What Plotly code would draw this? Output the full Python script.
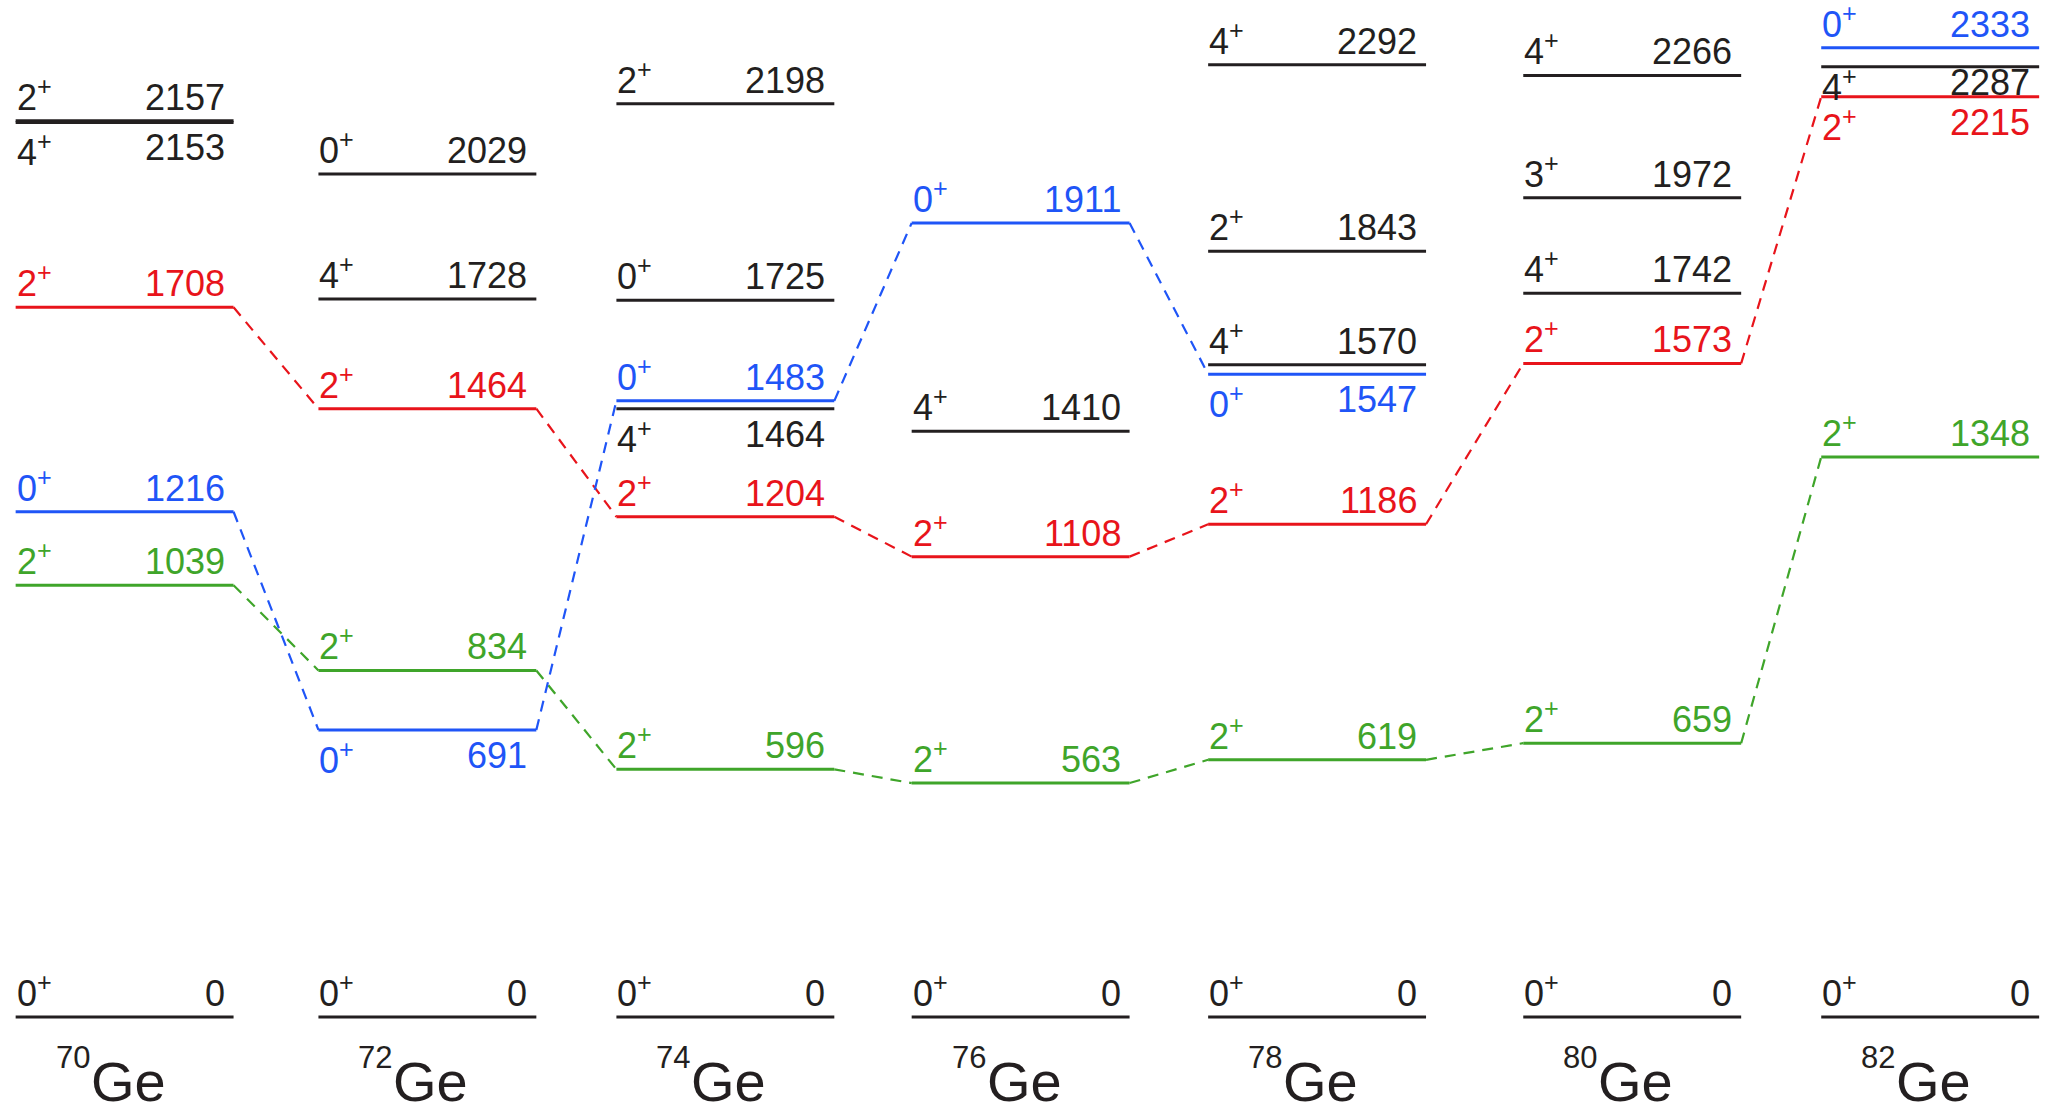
import plotly.graph_objects as go

# ---- level data (keV) -------------------------------------------------------
nuclei = ["70", "72", "74", "76", "78", "80", "82"]
ground_energy = [0, 0, 0, 0, 0, 0, 0]
first_2plus = [1039, 834, 596, 563, 619, 659, 1348]
second_2plus = [1708, 1464, 1204, 1108, 1186, 1573, 2215]
second_0plus = [1216, 691, 1483, 1911, 1547, None, 2333]

other_nucleus = [0, 0, 1, 1, 2, 2, 2, 3, 4, 4, 4, 5, 5, 5, 6]
other_spin = ["2", "4", "0", "4", "2", "0", "4", "4", "4", "2", "4", "4", "3", "4", "4"]
other_energy = [2157, 2153, 2029, 1728, 2198, 1725, 1464, 1410, 2292, 1843, 1570,
                2266, 1972, 1742, 2287]

# ---- styling / layout ---------------------------------------------------------
BLACK = "#231F20"
RED = "#E8141B"
BLUE = "#1F55F7"
GREEN = "#3FA52A"
FONT = "Liberation Sans, Arial, Helvetica, sans-serif"
LABEL_SIZE = 36

COL_POS = [0.0, 1.006, 1.996, 2.977, 3.962, 5.009, 5.999]   # column centres
HALF = 0.362                                                 # half level width
X_RANGE = [-0.414, 6.417]
Y_RANGE = [-233.5, 2447.7]

# levels whose labels sit under the line, with the vertical nudge of the label
LABEL_BELOW = {(0, 2153): -3, (1, 691): -3, (2, 1464): -3, (4, 1547): -3,
               (6, 2215): -3, (6, 2287): 7}

fig = go.Figure()
annotations = []


def add_level(i, energy, spin, color):
    c = COL_POS[i]
    fig.add_trace(go.Scatter(
        x=[c - HALF, c + HALF], y=[energy, energy], mode="lines",
        line=dict(color=color, width=3), hoverinfo="skip", showlegend=False))
    below = (i, energy) in LABEL_BELOW
    common = dict(xref="x", yref="y", y=energy, showarrow=False,
                  yanchor="top" if below else "bottom",
                  yshift=LABEL_BELOW[(i, energy)] if below else 1,
                  font=dict(family=FONT, size=LABEL_SIZE, color=color))
    annotations.append(dict(x=c - HALF, xanchor="left", xshift=-1,
                            text=f"{spin}<sup>+</sup>", **common))
    annotations.append(dict(x=c + HALF, xanchor="right", xshift=-7,
                            text=str(energy), **common))


def add_band(energies, color):
    # dashed connectors from the right end of one level to the left end of the next
    for i in range(len(energies) - 1):
        a, b = energies[i], energies[i + 1]
        if a is None or b is None:
            continue
        fig.add_trace(go.Scatter(
            x=[COL_POS[i] + HALF, COL_POS[i + 1] - HALF], y=[a, b], mode="lines",
            line=dict(color=color, width=2.2, dash="11px,8px"),
            hoverinfo="skip", showlegend=False))


add_band(first_2plus, GREEN)
add_band(second_2plus, RED)
add_band(second_0plus, BLUE)

for i, e in enumerate(ground_energy):
    add_level(i, e, "0", BLACK)
for i, e in enumerate(first_2plus):
    add_level(i, e, "2", GREEN)
for i, e in enumerate(second_2plus):
    add_level(i, e, "2", RED)
for i, e in enumerate(second_0plus):
    if e is not None:
        add_level(i, e, "0", BLUE)
for i, s, e in zip(other_nucleus, other_spin, other_energy):
    add_level(i, e, s, BLACK)

# isotope names under each column
for i, a in enumerate(nuclei):
    annotations.append(dict(x=COL_POS[i], xref="x", y=0, yref="paper",
                            xanchor="left", yanchor="bottom", xshift=-35, yshift=0,
                            borderpad=0, text="Ge", showarrow=False,
                            font=dict(family=FONT, size=56, color=BLACK)))
    annotations.append(dict(x=COL_POS[i], xref="x", y=0, yref="paper",
                            xanchor="right", yanchor="bottom", xshift=-34, yshift=38,
                            borderpad=0, text=a, showarrow=False,
                            font=dict(family=FONT, size=31, color=BLACK)))

fig.update_layout(
    width=2056, height=1114, autosize=False,
    margin=dict(l=0, r=0, t=0, b=0),
    paper_bgcolor="white", plot_bgcolor="white",
    xaxis=dict(range=X_RANGE, visible=False, fixedrange=True),
    yaxis=dict(range=Y_RANGE, visible=False, fixedrange=True),
    annotations=annotations,
)

fig.write_html("out.html")
